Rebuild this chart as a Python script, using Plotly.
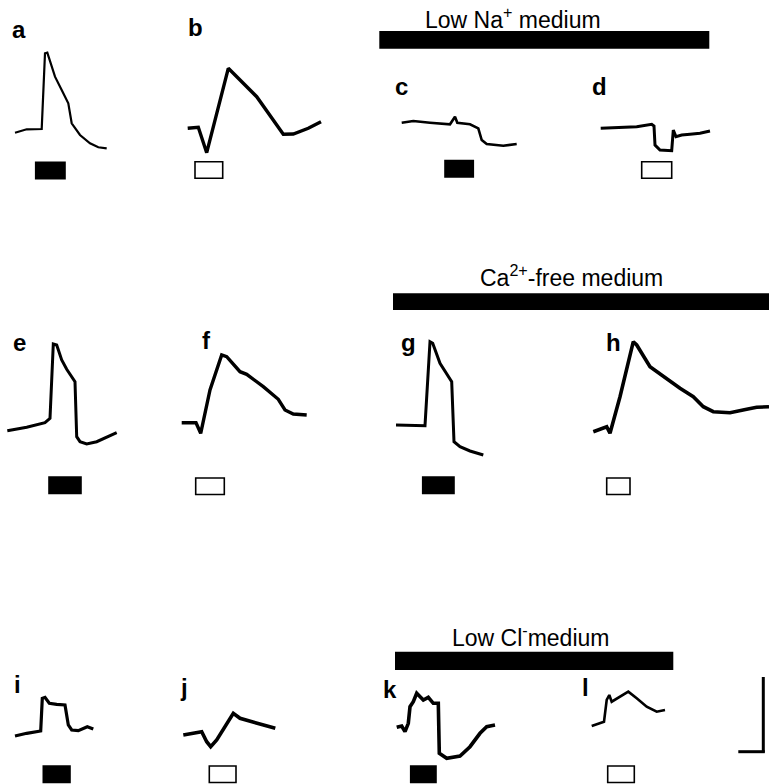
import plotly.graph_objects as go

W, H = 769, 784

# ---------------- data (time units, potential units; baseline = first sample) -------------
panel_labels = ["a", "b", "c", "d", "e", "f", "g", "h", "i", "j", "k", "l"]

t_a = [0, 11.7, 26.7, 30, 32.3, 40, 46.7, 53.3, 56.7, 65, 75, 83.3, 91.7]
v_a = [0, 3.4, 3.7, 79.4, 80, 56, 42.7, 29.4, 9.4, -2.3, -10.6, -14.6, -15.6]

t_b = [0, 10.6, 19, 40.6, 45.6, 59, 69, 95.6, 105.6, 120.6, 133.3]
v_b = [0, 1, -24.4, 60, 55, 41.6, 31.6, -6, -5.7, 0, 6.6]

t_c = [0, 11.6, 28.3, 48.3, 53.3, 55.6, 68.3, 76.6, 80, 85, 101.6, 115]
v_c = [0, 1.7, 0, -1.6, 6, 0, -1.6, -5.6, -17.3, -21.3, -23, -21.3]

t_d = [0, 16, 36, 51, 53.3, 54.3, 59.3, 71, 72.6, 75.3, 81, 89.3, 99.3, 109.3]
v_d = [0, 1, 1.6, 4, 2.3, -16.7, -21.7, -22.4, -1.7, -8.4, -6.7, -6, -5, -2.7]

t_e = [0, 19.4, 37.7, 42.7, 46, 49.4, 54.4, 59.4, 67.7, 69.4, 72.7, 79.4, 89.4, 99.4, 109.4]
v_e = [0, 3.4, 8, 12.4, 86.7, 85.7, 70.7, 61.4, 49, -6, -11, -13.3, -11, -6.6, -2]

t_f = [0, 14.3, 19, 28.3, 40, 45, 58.3, 65, 81.6, 96.6, 103.3, 111.6, 125]
v_f = [0, 0, -10.6, 32.7, 67.7, 66, 51, 48.4, 36, 23.4, 12.7, 8.7, 7.7]

t_g = [0, 14, 29, 34, 36.7, 44, 50.7, 55.7, 58, 64, 74, 87.3]
v_g = [0, 0, -0.7, 83.3, 81.7, 61.7, 51.7, 43.3, -16.7, -21.7, -26, -30]

t_h = [0, 13.4, 16.7, 26.7, 40, 43.4, 56.7, 70, 86.7, 100, 110, 120, 136.7, 153.4, 163.4, 175.7]
v_h = [0, 5, -1.6, 35, 90, 86.7, 65, 55, 43.4, 35, 25, 20, 19, 22.4, 24.4, 25]

t_i = [0, 11.7, 25.7, 27.3, 30, 34.3, 41.7, 50, 53.3, 56.7, 63.3, 72.3, 78.3]
v_i = [0, 2.7, 5, 37.7, 38.7, 32.7, 31.7, 31, 11, 6, 5.3, 9.3, 7]

t_j = [0, 18.4, 23.4, 27.4, 33.4, 50, 56.7, 80, 92]
v_j = [0, 3.3, -6.7, -11.7, -5, 21.7, 16.7, 10, 6.7]

t_k = [0, 5, 8.3, 11.6, 13.3, 16.6, 20, 23.3, 26.6, 31.6, 36.6, 41.6, 42.6, 50, 63.3, 73.3, 83.3, 90, 98.3]
v_k = [0, 1.3, -4.4, 4, 20.6, 25.6, 34, 30.6, 27.3, 30, 24, 24, -26, -31, -28.7, -19.4, -6, 0.6, 2.3]

t_l = [0, 12.3, 15, 17.6, 20, 28.3, 36.6, 45, 55, 65, 73.3]
v_l = [0, 4.3, 26, 31, 24.3, 29.3, 34.3, 27.7, 19.3, 14.3, 16]

# stimulus on / off times (same time units); filled = black, open = white
stim_on = [20.7, 7.3, 43.3, 41, 41.7, 14, 26.7, 13.4, 28.3, 26, 14, 16]
stim_off = [50, 35, 71.6, 71, 73.7, 42.6, 58, 36.7, 55, 52.7, 39.3, 42.6]
stim_filled = [True, False, True, False, True, False, True, False, True, False, True, False]

medium_titles = ["Low Na<sup>+</sup> medium", "Ca<sup>2+</sup>-free medium", "Low Cl<sup>-</sup>medium"]

traces_t = [t_a, t_b, t_c, t_d, t_e, t_f, t_g, t_h, t_i, t_j, t_k, t_l]
traces_v = [v_a, v_b, v_c, v_d, v_e, v_f, v_g, v_h, v_i, v_j, v_k, v_l]

# ---------------- layout (pixel positions of each panel's baseline start) ----------------
anchors = [(15, 132.7), (187.7, 128.3), (401.7, 122.7), (600.7, 128.3),
           (7.3, 430.7), (181.7, 422.7), (396, 425), (593.3, 431.7),
           (15, 736), (183.3, 735), (396.7, 727.3), (591.7, 726)]
widths = [2.2, 3.4, 2.6, 3.0, 3.0, 3.4, 3.0, 3.6, 3.2, 3.6, 3.6, 2.6]
label_pos = [(19.3, 37), (195, 36), (401.7, 94), (599.3, 94),
             (19.3, 350), (206.7, 348), (408.3, 350), (613.3, 350),
             (17.3, 692), (184.3, 695), (390, 697), (585, 695)]
stim_top = [162.3, 161.7, 160.5, 161.7, 477, 478, 477, 478, 766, 766, 766, 766]
stim_h = 16.5

medium_bars = [(379.3, 709.3, 31, 48.7), (393, 769, 293.3, 310), (395, 673.3, 651.7, 670)]
medium_title_pos = [(513, 26), (571, 284.3), (530, 644.3)]

FONT = "Liberation Sans, Arial, Helvetica, sans-serif"


def px(x):
    return x / W


def py(y):
    return 1 - y / H


fig = go.Figure()
layout = dict(width=W, height=H, margin=dict(l=0, r=0, t=0, b=0),
              paper_bgcolor="white", plot_bgcolor="rgba(0,0,0,0)",
              showlegend=False)
shapes = []
annotations = []

L_, R_, U_, D_ = 30, 190, 110, 60
for i in range(12):
    ax_px, ay_px = anchors[i]
    x0 = max(0, ax_px - L_)
    x1 = min(W, ax_px + R_)
    y0 = max(0, ay_px - U_)
    y1 = min(H, ay_px + D_)
    n = "" if i == 0 else str(i + 1)
    layout["xaxis" + n] = dict(domain=[px(x0), px(x1)], range=[x0 - ax_px, x1 - ax_px],
                               visible=False, fixedrange=True, anchor="y" + n)
    layout["yaxis" + n] = dict(domain=[py(y1), py(y0)], range=[ay_px - y1, ay_px - y0],
                               visible=False, fixedrange=True, anchor="x" + n)
    fig.add_trace(go.Scatter(x=traces_t[i], y=traces_v[i], mode="lines",
                             line=dict(color="black", width=widths[i]),
                             xaxis="x" + n, yaxis="y" + n, hoverinfo="skip"))
    # stimulus marker
    shapes.append(dict(type="rect", xref="x" + n, yref="paper",
                       x0=stim_on[i], x1=stim_off[i],
                       y0=py(stim_top[i] + stim_h), y1=py(stim_top[i]),
                       fillcolor="black" if stim_filled[i] else "white",
                       line=dict(color="black", width=1.6)))
    lx, ly = label_pos[i]
    annotations.append(dict(x=px(lx), y=py(ly - 8), xref="paper", yref="paper",
                            text="<b>%s</b>" % panel_labels[i], showarrow=False,
                            xanchor="center", yanchor="middle",
                            font=dict(family=FONT, size=24, color="black")))

for (bx0, bx1, by0, by1), title, (tx, ty) in zip(medium_bars, medium_titles, medium_title_pos):
    shapes.append(dict(type="rect", xref="paper", yref="paper",
                       x0=px(bx0), x1=px(bx1), y0=py(by1), y1=py(by0),
                       fillcolor="black", line=dict(width=0)))
    annotations.append(dict(x=px(tx), y=py(ty - 8), xref="paper", yref="paper",
                            text=title, showarrow=False, xanchor="center", yanchor="middle",
                            font=dict(family=FONT, size=23, color="black")))

# scale bar
shapes.append(dict(type="line", xref="paper", yref="paper",
                   x0=px(763.3), x1=px(763.3), y0=py(677), y1=py(752.5),
                   line=dict(color="black", width=3)))
shapes.append(dict(type="line", xref="paper", yref="paper",
                   x0=px(738.3), x1=px(764.8), y0=py(751.7), y1=py(751.7),
                   line=dict(color="black", width=3)))

layout["shapes"] = shapes
layout["annotations"] = annotations
fig.update_layout(**layout)
fig.write_html("out.html")
